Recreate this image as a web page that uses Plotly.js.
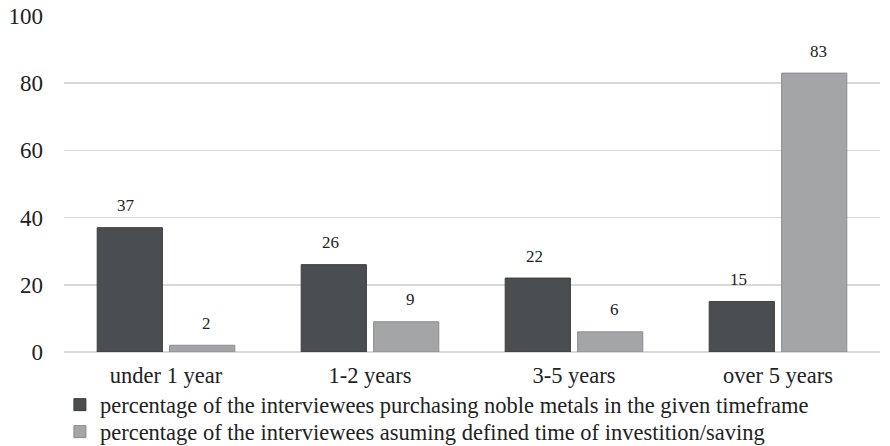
<!DOCTYPE html>
<html>
<head>
<meta charset="utf-8">
<script src="https://cdn.plot.ly/plotly-3.0.1.min.js"></script>
<style>html,body{margin:0;padding:0;background:#fff;}#chart{width:890px;height:446px;}</style>
</head>
<body>
<div id="chart"></div>
<script>
const categories = ["under 1 year", "1-2 years", "3-5 years", "over 5 years"];
const purchasing = [37, 26, 22, 15];
const assuming = [2, 9, 6, 83];
const seriesNames = [
  "percentage of the interviewees purchasing noble metals in the given timeframe",
  "percentage of the interviewees asuming defined time of investition/saving"
];
const yTicks = [0, 20, 40, 60, 80, 100];

const fontFam = "'Liberation Serif', 'DejaVu Serif', serif";

const traces = [
  {
    type: "bar", x: categories, y: purchasing, name: seriesNames[0],
    marker: {color: "#4b4e51", line: {color: "#3a3c3e", width: 1}},
    hoverinfo: "skip", legend: "legend"
  },
  {
    type: "bar", x: categories, y: assuming, name: seriesNames[1],
    marker: {color: "#a3a5a7", line: {color: "#8a8c8e", width: 1}},
    hoverinfo: "skip", legend: "legend2"
  }
];

const annotations = [];
[purchasing, assuming].forEach((vals, si) => {
  vals.forEach((v, i) => {
    annotations.push({
      x: categories[i], y: v, xref: "x", yref: "y",
      text: String(v), showarrow: false,
      xshift: si === 0 ? -40 : 40, yshift: 22,
      font: {family: fontFam, size: 17, color: "#222"}
    });
  });
});

const legendBase = {
  orientation: "v", x: -0.005, xanchor: "left",
  yref: "container", yanchor: "middle",
  font: {family: fontFam, size: 22.5, color: "#222"},
  itemwidth: 30, tracegroupgap: 0, bgcolor: "rgba(0,0,0,0)"
};

const layout = {
  width: 890, height: 446,
  margin: {l: 64, r: 10, t: 16, b: 94},
  paper_bgcolor: "#fff", plot_bgcolor: "#fff",
  font: {family: fontFam, size: 18, color: "#222"},
  barmode: "group", bargap: 0.29, bargroupgap: 0.1,
  xaxis: {
    showgrid: false, zeroline: false, showline: false, ticks: "",
    ticklabelstandoff: 7,
    tickfont: {family: fontFam, size: 22.5, color: "#222"}
  },
  yaxis: {
    range: [0, 100], tickvals: yTicks, showgrid: true,
    gridcolor: "#d9d9d9", gridwidth: 1.5, zeroline: true, zerolinecolor: "#d9d9d9", zerolinewidth: 1.5,
    showline: false, ticks: "", ticklabelstandoff: 20,
    tickfont: {family: fontFam, size: 23, color: "#222"}
  },
  showlegend: true,
  legend: Object.assign({}, legendBase, {y: 1 - 405 / 446}),
  legend2: Object.assign({}, legendBase, {y: 1 - 432 / 446}),
  annotations: annotations
};

Plotly.newPlot("chart", traces, layout, {displayModeBar: false, staticPlot: true});
</script>
</body>
</html>
